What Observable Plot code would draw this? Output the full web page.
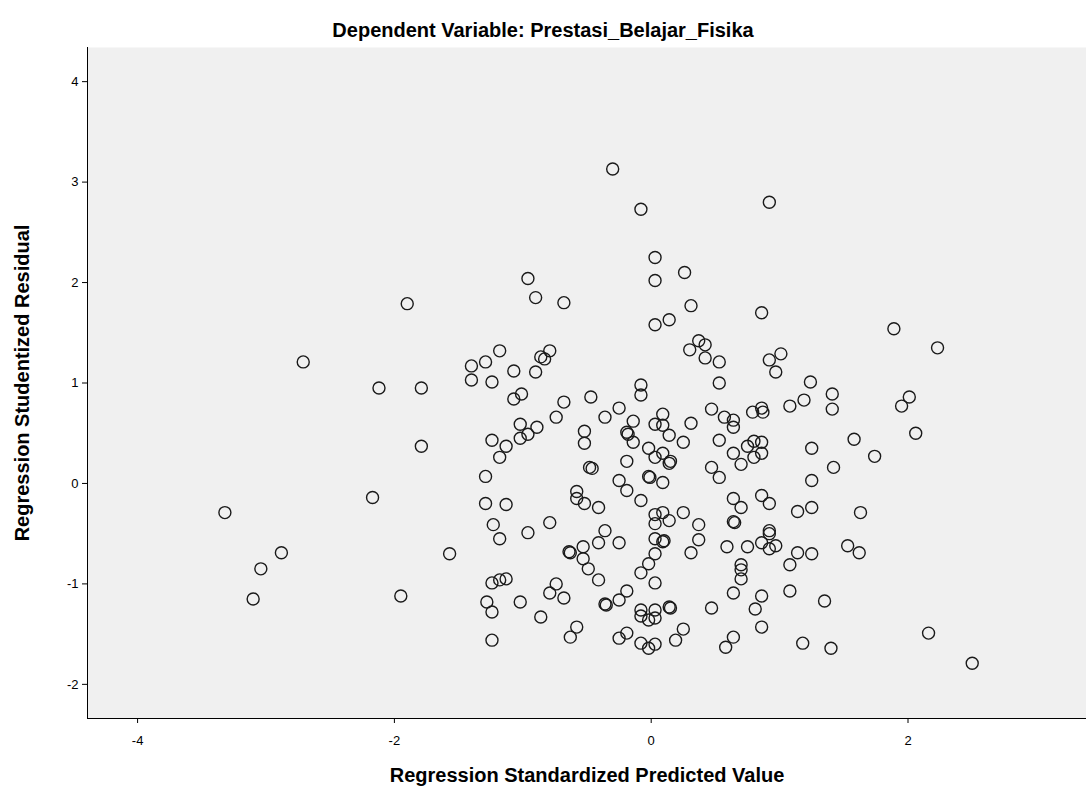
<!DOCTYPE html>
<html>
<head>
<meta charset="utf-8">
<script src="https://cdn.jsdelivr.net/npm/d3@7"></script>
<script src="https://cdn.jsdelivr.net/npm/@observablehq/plot@0.6"></script>
<style>
  html, body { margin: 0; padding: 0; background: #ffffff; }
  #chart { width: 1086px; height: 803px; }
</style>
</head>
<body>
<div id="chart"></div>
<script>
// Regression Standardized Predicted Value (x) and Regression Studentized Residual (y)
const predicted = [
  -0.30, -0.08, 0.92, 0.03, 0.26, -0.96, 0.03, -0.90, -1.90, -0.68,
  0.31, 0.86, 0.03, 0.14, 1.89, 2.23, -2.71, -1.18, -1.29, -1.40,
  -1.40, -1.24, -1.07, -0.79, -0.86, -0.83, -0.90, -1.79, -2.12, -1.01,
  -1.07, -0.68, -0.47, -0.74, -1.02, -0.89, -0.96, -1.02, -1.24, -1.13,
  -1.18, -1.79, -0.52, -0.52, -0.46, -0.48, -1.29, -1.29, -1.13, -0.58,
  -0.58, -0.52, -1.23, -0.96, -0.79, -2.17, -3.32, -2.88, -3.04, -3.10,
  -1.95, 0.37, 0.42, 0.30, 0.42, 0.53, 0.92, 0.97, 1.01, 0.53,
  -0.08, -0.08, -0.25, -0.36, -0.14, 0.09, 0.03, 0.09, 0.31, 0.14,
  0.47, 0.57, 0.64, 0.64, 0.79, 0.86, 0.87, -0.19, -0.18, -0.14,
  -0.02, 0.03, 0.09, 0.14, 0.15, 0.25, 0.53, 0.64, 0.70, 0.75,
  0.80, 0.86, 0.80, 0.86, -0.19, 0.47, 0.53, -0.02, -0.01, -0.25,
  -0.19, 0.09, -0.08, -0.41, 0.64, 0.70, 0.86, 0.92, 0.03, 0.09,
  0.03, 0.14, 0.25, 0.37, 0.64, 0.65, -0.36, 0.92, 1.24, 1.19,
  1.08, 1.41, 1.41, 2.01, 1.95, 2.06, 1.58, 1.25, 1.74, 1.42,
  1.25, 1.14, 1.25, 1.63, -1.18, -1.57, -0.64, -0.63, -0.53, -0.53,
  -0.49, -1.24, -1.18, -1.13, -0.74, -0.79, -0.68, -1.28, -1.24, -1.02,
  -0.86, -0.58, -0.63, -1.24, -0.41, -0.25, 0.03, 0.09, 0.10, 0.37,
  0.31, 0.03, -0.02, -0.08, -0.41, 0.03, 0.59, 0.75, 0.86, 0.92,
  0.92, 0.97, 0.70, 0.70, 0.70, 0.64, 0.86, 0.81, 0.86, -0.19,
  -0.25, -0.36, -0.35, -0.08, -0.08, -0.02, 0.03, 0.03, 0.14, 0.15,
  0.47, -0.19, -0.25, 0.25, 0.19, -0.08, -0.02, 0.03, 0.64, 0.58,
  1.14, 1.25, 1.53, 1.62, 1.08, 1.08, 1.35, 2.16, 1.18, 1.40,
  2.50
];
const residual = [
  3.13, 2.73, 2.80, 2.25, 2.10, 2.04, 2.02, 1.85, 1.79, 1.80,
  1.77, 1.70, 1.58, 1.63, 1.54, 1.35, 1.21, 1.32, 1.21, 1.17,
  1.03, 1.01, 1.12, 1.32, 1.26, 1.24, 1.11, 0.95, 0.95, 0.89,
  0.84, 0.81, 0.86, 0.66, 0.59, 0.56, 0.49, 0.45, 0.43, 0.37,
  0.26, 0.37, 0.52, 0.40, 0.15, 0.16, 0.07, -0.20, -0.21, -0.08,
  -0.15, -0.20, -0.41, -0.49, -0.39, -0.14, -0.29, -0.69, -0.85, -1.15,
  -1.12, 1.42, 1.38, 1.33, 1.25, 1.21, 1.23, 1.11, 1.29, 1.00,
  0.98, 0.88, 0.75, 0.66, 0.62, 0.69, 0.59, 0.58, 0.60, 0.48,
  0.74, 0.66, 0.63, 0.56, 0.71, 0.75, 0.71, 0.51, 0.49, 0.41,
  0.35, 0.26, 0.30, 0.20, 0.22, 0.41, 0.43, 0.30, 0.19, 0.37,
  0.42, 0.41, 0.26, 0.30, 0.22, 0.16, 0.06, 0.07, 0.06, 0.03,
  -0.07, 0.01, -0.17, -0.24, -0.15, -0.24, -0.12, -0.20, -0.31, -0.29,
  -0.40, -0.37, -0.29, -0.41, -0.38, -0.39, -0.47, -0.47, 1.01, 0.83,
  0.77, 0.89, 0.74, 0.86, 0.77, 0.50, 0.44, 0.35, 0.27, 0.16,
  0.03, -0.28, -0.24, -0.29, -0.55, -0.70, -0.68, -0.69, -0.63, -0.75,
  -0.85, -0.99, -0.96, -0.95, -1.00, -1.09, -1.14, -1.18, -1.28, -1.18,
  -1.33, -1.43, -1.53, -1.56, -0.59, -0.59, -0.55, -0.58, -0.57, -0.56,
  -0.69, -0.70, -0.80, -0.89, -0.96, -0.99, -0.63, -0.63, -0.59, -0.50,
  -0.65, -0.62, -0.81, -0.86, -0.95, -1.09, -1.12, -1.25, -1.43, -1.07,
  -1.16, -1.20, -1.21, -1.26, -1.32, -1.36, -1.26, -1.34, -1.23, -1.24,
  -1.24, -1.49, -1.54, -1.45, -1.56, -1.59, -1.64, -1.60, -1.53, -1.63,
  -0.69, -0.70, -0.62, -0.69, -0.81, -1.07, -1.17, -1.49, -1.59, -1.64,
  -1.79
];
const xTicks = [-4, -2, 0, 2];
const yTicks = [-2, -1, 0, 1, 2, 3, 4];
const xDomain = [-4.39, 3.39];
const yDomain = [-2.34, 4.34];
const titleText = "Dependent Variable: Prestasi_Belajar_Fisika";
const xLabel = "Regression Standardized Predicted Value";
const yLabel = "Regression Studentized Residual";

const points = predicted.map((x, i) => ({x, y: residual[i]}));

const chart = Plot.plot({
  width: 1086,
  height: 803,
  marginLeft: 87,
  marginRight: 0,
  marginTop: 47,
  marginBottom: 85,
  style: {fontFamily: "'Liberation Sans', Arial, sans-serif", background: "#ffffff", color: "#000000"},
  x: {domain: xDomain},
  y: {domain: yDomain},
  marks: [
    Plot.frame({fill: "#f0f0f0", stroke: null}),
    Plot.axisX({ticks: xTicks, tickSize: 5, tickPadding: 12, tickFormat: d => String(d), label: null, fontSize: 13, stroke: "#000"}),
    Plot.axisY({ticks: yTicks, tickSize: 5, tickPadding: 4, tickFormat: d => String(d), label: null, fontSize: 13, stroke: "#000"}),
    Plot.ruleX([xDomain[0]], {stroke: "#000", strokeWidth: 1}),
    Plot.ruleY([yDomain[0]], {stroke: "#000", strokeWidth: 1}),
    Plot.dot(points, {x: "x", y: "y", r: 6, stroke: "#1a1a1a", strokeWidth: 1.4, fill: "none"}),
    Plot.text([titleText], {frameAnchor: "top", dx: -44, dy: -25, fontSize: 20, fontWeight: "bold", fill: "#000"}),
    Plot.text([xLabel], {frameAnchor: "bottom", dy: 63, fontSize: 20, fontWeight: "bold", fill: "#000"}),
    Plot.text([yLabel], {frameAnchor: "left", textAnchor: "middle", dx: -65, rotate: -90, fontSize: 20, fontWeight: "bold", fill: "#000"})
  ]
});
document.getElementById("chart").appendChild(chart);
</script>
</body>
</html>
